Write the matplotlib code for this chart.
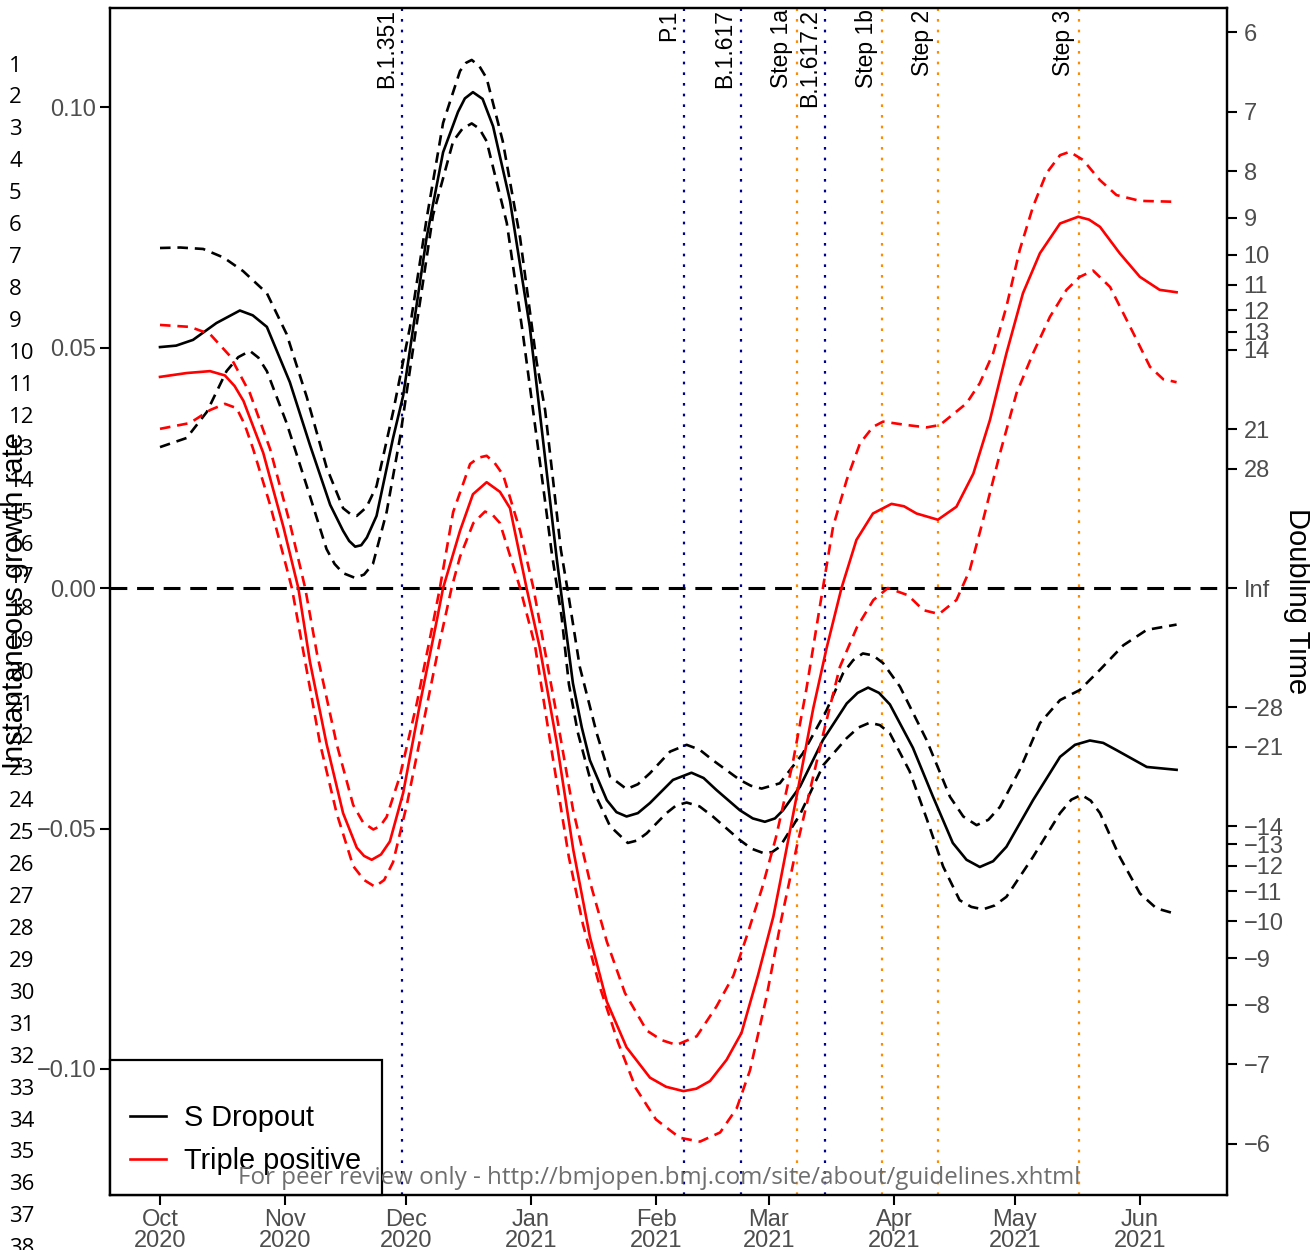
import numpy as np
import pandas as pd
import matplotlib
matplotlib.use("Agg")
import matplotlib.pyplot as plt
from matplotlib.lines import Line2D

plt.rcParams['font.family'] = ['Liberation Sans', 'DejaVu Sans']

START = pd.Timestamp("2020-10-01")

# growth rate estimates, x given as days since 1 Oct 2020
sdrop_days = [0, 4.0, 8.2, 14.0, 19.8, 23.0, 26.5, 32.2, 37.2, 42.2, 45.4, 46.9, 48.4, 49.9, 51.3,
              53.7, 57.8, 60.3, 66.1, 70.2, 73.9, 75.6, 77.6, 80.0, 82.6, 86.8, 91.7, 94.2, 98.4,
              100.4, 102.4, 104.6, 106.6, 110.8, 113.2, 115.7, 118.5, 121.5, 127.2, 131.8, 134.8,
              138.0, 143.8, 147.0, 150.0, 152.5, 154.5, 158.7, 164.4, 170.3, 173.0, 175.6, 178.3,
              181.0, 186.7, 191.7, 196.6, 200.0, 203.3, 206.6, 209.9, 216.5, 223.2, 226.9, 230.6,
              233.9, 237.2, 244.7, 252.1]
sdrop_rate = [0.0501, 0.0504, 0.0516, 0.0551, 0.0577, 0.0567, 0.0543, 0.0428, 0.0297, 0.0173,
              0.0119, 0.0098, 0.0086, 0.0089, 0.0105, 0.0150, 0.0312, 0.0400, 0.0728, 0.0906,
              0.0990, 0.1018, 0.1031, 0.1017, 0.0960, 0.0805, 0.0543, 0.0364, 0.0060, -0.0070,
              -0.0198, -0.0290, -0.0358, -0.0441, -0.0466, -0.0475, -0.0468, -0.0447, -0.0399,
              -0.0384, -0.0395, -0.0420, -0.0462, -0.0479, -0.0486, -0.0479, -0.0462, -0.0413,
              -0.0316, -0.0240, -0.0218, -0.0207, -0.0218, -0.0242, -0.0332, -0.0434, -0.0530,
              -0.0565, -0.0580, -0.0568, -0.0538, -0.0441, -0.0351, -0.0326, -0.0317, -0.0322,
              -0.0337, -0.0372, -0.0378]

sdrop_hi_days = [0, 5.0, 10.7, 15.8, 20.6, 26.5, 31.4, 36.4, 41.3, 45.4, 47.2, 48.8, 51.2, 53.7,
                 57.8, 62.0, 66.1, 70.2, 74.4, 75.9, 77.3, 79.2, 81.0, 85.0, 89.3, 93.4, 95.5,
                 97.4, 99.4, 101.2, 104.1, 108.3, 111.6, 115.7, 118.5, 121.5, 126.5, 130.6, 133.8,
                 137.1, 143.8, 146.5, 149.2, 153.7, 159.4, 165.3, 169.4, 171.9, 174.3, 176.8,
                 179.3, 183.5, 190.1, 195.9, 199.2, 202.5, 205.4, 208.3, 213.2, 218.2, 223.2,
                 228.1, 233.1, 238.9, 244.7, 252.1]
sdrop_hi = [0.0707, 0.0708, 0.0705, 0.0687, 0.0659, 0.0613, 0.0528, 0.0397, 0.0251, 0.0166,
            0.0154, 0.0150, 0.0168, 0.0212, 0.0366, 0.0543, 0.0767, 0.0967, 0.1075, 0.1092,
            0.1098, 0.1085, 0.1060, 0.0929, 0.0728, 0.0470, 0.0370, 0.0230, 0.0080, -0.0010,
            -0.0164, -0.0302, -0.0392, -0.0418, -0.0408, -0.0385, -0.0340, -0.0326, -0.0336,
            -0.0358, -0.0399, -0.0411, -0.0417, -0.0406, -0.0344, -0.0254, -0.0177, -0.0150,
            -0.0136, -0.0140, -0.0156, -0.0205, -0.0316, -0.0434, -0.0475, -0.0493, -0.0482,
            -0.0455, -0.0378, -0.0281, -0.0233, -0.0212, -0.0170, -0.0119, -0.0087, -0.0076]

sdrop_lo_days = [0, 6.6, 11.6, 16.5, 19.4, 22.3, 24.4, 26.5, 31.4, 36.4, 41.3, 43.3, 45.4, 48.4,
                 50.6, 52.8, 56.2, 59.5, 63.7, 67.7, 72.7, 75.0, 77.3, 79.2, 81.0, 86.0, 90.0,
                 95.0, 97.2, 99.6, 101.4, 103.6, 107.4, 111.6, 116.0, 118.3, 120.7, 125.6, 128.0,
                 130.6, 133.8, 137.1, 143.8, 146.7, 149.6, 151.8, 153.7, 158.7, 164.5, 170.3,
                 173.2, 176.0, 178.5, 181.0, 185.9, 190.1, 194.2, 198.3, 201.2, 204.1, 207.0,
                 209.9, 216.5, 223.2, 226.0, 228.5, 230.8, 233.1, 238.0, 243.0, 247.1, 252.1]
sdrop_lo = [0.0293, 0.0312, 0.0366, 0.0451, 0.0480, 0.0493, 0.0479, 0.0451, 0.0343, 0.0212,
            0.0081, 0.0050, 0.0031, 0.0021, 0.0028, 0.0050, 0.0158, 0.0312, 0.0551, 0.0775,
            0.0929, 0.0955, 0.0966, 0.0955, 0.0929, 0.0759, 0.0528, 0.0212, 0.0070, -0.0060,
            -0.0200, -0.0300, -0.0420, -0.0495, -0.0530, -0.0525, -0.0510, -0.0468, -0.0452,
            -0.0446, -0.0454, -0.0475, -0.0524, -0.0542, -0.0551, -0.0549, -0.0538, -0.0471,
            -0.0368, -0.0312, -0.0290, -0.0280, -0.0285, -0.0302, -0.0381, -0.0479, -0.0579,
            -0.0649, -0.0663, -0.0668, -0.0660, -0.0642, -0.0559, -0.0468, -0.0440, -0.0430,
            -0.0442, -0.0468, -0.0559, -0.0635, -0.0666, -0.0678]

triple_days = [0, 6.6, 12.4, 16.1, 18.5, 20.7, 25.6, 30.6, 34.3, 37.2, 41.3, 45.4, 48.8, 50.6,
               52.5, 54.8, 57.0, 60.3, 64.5, 68.6, 70.2, 74.4, 77.6, 81.0, 84.3, 86.8, 90.9,
               94.2, 98.4, 102.5, 106.6, 110.8, 115.7, 121.5, 125.5, 129.8, 133.0, 136.4, 140.5,
               144.2, 148.3, 152.1, 153.7, 158.1, 162.0, 165.3, 169.0, 172.7, 176.8, 181.4,
               184.5, 187.6, 192.9, 197.5, 201.7, 205.8, 209.9, 214.0, 218.2, 223.2, 227.7,
               230.4, 233.1, 238.0, 243.0, 247.9, 252.1]
triple_rate = [0.0439, 0.0447, 0.0451, 0.0442, 0.0420, 0.0389, 0.0281, 0.0127, 0.0000, -0.0154,
               -0.0324, -0.0468, -0.0540, -0.0557, -0.0565, -0.0554, -0.0527, -0.0426, -0.0239,
               -0.0069, 0.0000, 0.0119, 0.0195, 0.0220, 0.0200, 0.0166, 0.0000, -0.0125,
               -0.0322, -0.0545, -0.0725, -0.0860, -0.0955, -0.1018, -0.1037, -0.1046, -0.1041,
               -0.1025, -0.0981, -0.0925, -0.0805, -0.0683, -0.0615, -0.0423, -0.0250, -0.0125,
               0.0000, 0.0100, 0.0155, 0.0175, 0.0170, 0.0155, 0.0142, 0.0169, 0.0238, 0.0349,
               0.0488, 0.0613, 0.0696, 0.0758, 0.0772, 0.0766, 0.0751, 0.0696, 0.0647, 0.0620,
               0.0615]

triple_hi_days = [0, 7.4, 12.4, 17.4, 22.3, 27.3, 32.2, 36.0, 38.9, 43.8, 47.9, 50.4, 52.9, 54.6,
                  56.2, 59.5, 63.7, 67.8, 69.4, 72.7, 76.9, 79.0, 81.0, 83.0, 85.1, 89.3, 92.6,
                  98.0, 102.4, 106.6, 110.8, 115.3, 120.7, 124.4, 128.1, 133.1, 138.0, 142.2,
                  145.5, 149.3, 152.7, 157.0, 160.3, 163.6, 166.9, 170.3, 173.6, 176.8, 179.3,
                  185.1, 190.1, 193.4, 195.9, 200.0, 203.3, 206.6, 209.9, 213.2, 216.5, 219.8,
                  223.2, 225.6, 228.9, 233.1, 237.2, 243.0, 252.1]
triple_hi = [0.0547, 0.0543, 0.0528, 0.0482, 0.0405, 0.0289, 0.0135, 0.0000, -0.0135, -0.0324,
             -0.0451, -0.0488, -0.0502, -0.0495, -0.0476, -0.0391, -0.0239, -0.0069, 0.0000,
             0.0158, 0.0258, 0.0271, 0.0275, 0.0260, 0.0235, 0.0119, 0.0000, -0.0247, -0.0460,
             -0.0610, -0.0735, -0.0842, -0.0920, -0.0940, -0.0950, -0.0932, -0.0870, -0.0806,
             -0.0724, -0.0624, -0.0520, -0.0360, -0.0210, -0.0040, 0.0127, 0.0225, 0.0301,
             0.0335, 0.0346, 0.0339, 0.0334, 0.0339, 0.0356, 0.0384, 0.0426, 0.0488, 0.0585,
             0.0703, 0.0793, 0.0862, 0.0900, 0.0907, 0.0890, 0.0848, 0.0817, 0.0805, 0.0803]

triple_lo_days = [0, 7.4, 12.4, 16.1, 19.0, 21.0, 23.1, 27.3, 31.4, 32.7, 35.5, 39.7, 43.8, 47.9,
                  50.6, 53.3, 55.6, 57.8, 61.2, 65.3, 69.4, 72.3, 74.4, 77.7, 80.6, 82.5, 84.3,
                  89.3, 93.0, 96.2, 101.4, 104.9, 109.1, 113.6, 118.0, 123.0, 128.9, 133.9, 138.9,
                  143.0, 146.3, 150.4, 154.1, 157.9, 161.2, 164.5, 168.6, 172.8, 176.9, 180.5,
                  185.5, 189.3, 193.2, 197.5, 200.8, 204.1, 208.3, 212.4, 216.5, 220.7, 224.8,
                  228.1, 231.4, 235.6, 238.9, 242.2, 245.5, 248.8, 252.1]
triple_lo = [0.0331, 0.0343, 0.0370, 0.0383, 0.0374, 0.0340, 0.0289, 0.0173, 0.0042, 0.0000,
             -0.0130, -0.0324, -0.0468, -0.0578, -0.0607, -0.0621, -0.0607, -0.0570, -0.0451,
             -0.0281, -0.0111, 0.0000, 0.0065, 0.0135, 0.0159, 0.0152, 0.0135, 0.0000, -0.0120,
             -0.0290, -0.0560, -0.0700, -0.0830, -0.0945, -0.1040, -0.1105, -0.1143, -0.1151,
             -0.1132, -0.1082, -0.1003, -0.0850, -0.0688, -0.0538, -0.0420, -0.0302, -0.0164,
             -0.0082, -0.0025, 0.0000, -0.0015, -0.0046, -0.0054, -0.0025, 0.0037, 0.0141,
             0.0280, 0.0405, 0.0488, 0.0564, 0.0620, 0.0647, 0.0660, 0.0626, 0.0571, 0.0516,
             0.0460, 0.0434, 0.0428]

# variant introductions and roadmap steps
variant_labels = ["B.1.351", "P.1", "B.1.617", "B.1.617.2"]
variant_dates = ["2020-11-30", "2021-02-08", "2021-02-22", "2021-03-15"]
step_labels = ["Step 1a", "Step 1b", "Step 2", "Step 3"]
step_dates = ["2021-03-08", "2021-03-29", "2021-04-12", "2021-05-17"]

month_starts = ["2020-10-01", "2020-11-01", "2020-12-01", "2021-01-01", "2021-02-01",
                "2021-03-01", "2021-04-01", "2021-05-01", "2021-06-01"]
month_labels = ["Oct\n2020", "Nov\n2020", "Dec\n2020", "Jan\n2021", "Feb\n2021",
                "Mar\n2021", "Apr\n2021", "May\n2021", "Jun\n2021"]

growth_ticks = [0.10, 0.05, 0.00, -0.05, -0.10]
doubling_ticks = [6, 7, 8, 9, 10, 11, 12, 13, 14, 21, 28, np.inf,
                  -28, -21, -14, -13, -12, -11, -10, -9, -8, -7, -6]


def to_dates(days):
    return START + pd.to_timedelta(np.asarray(days, dtype=float), unit="D")


fig = plt.figure(figsize=(13.1, 12.5), dpi=100)
ax = fig.add_axes([110 / 1310, 1 - 1195 / 1250, (1227 - 110) / 1310, (1195 - 8) / 1250])

for d in variant_dates:
    ax.axvline(pd.Timestamp(d), color="#00008B", lw=1.6, dashes=(1.2, 3.6), zorder=1)
for d in step_dates:
    ax.axvline(pd.Timestamp(d), color="#FF8C00", lw=1.6, dashes=(1.2, 3.6), zorder=1)

ax.axhline(0, color="black", lw=2.2, dashes=(5.5, 3.2), zorder=2)

ci_dash = (4.0, 2.6)
line_kw = dict(lw=1.9, solid_joinstyle="round", dash_joinstyle="round", zorder=3)
ax.plot(to_dates(sdrop_days), sdrop_rate, color="black", **line_kw)
ax.plot(to_dates(sdrop_hi_days), sdrop_hi, color="black", dashes=ci_dash, **line_kw)
ax.plot(to_dates(sdrop_lo_days), sdrop_lo, color="black", dashes=ci_dash, **line_kw)
ax.plot(to_dates(triple_days), triple_rate, color="red", **line_kw)
ax.plot(to_dates(triple_hi_days), triple_hi, color="red", dashes=ci_dash, **line_kw)
ax.plot(to_dates(triple_lo_days), triple_lo, color="red", dashes=ci_dash, **line_kw)

for lab, d in zip(variant_labels + step_labels, variant_dates + step_dates):
    ax.annotate(lab, xy=(pd.Timestamp(d), 1.0), xycoords=("data", "axes fraction"),
                xytext=(-3, -1), textcoords="offset points", rotation=90,
                ha="right", va="top", fontsize=16.5, color="black")

ax.set_xlim(START - pd.Timedelta(days=12.4), START + pd.Timedelta(days=264.6))
ax.set_ylim(-0.1262, 0.1206)

tick_color = "#4D4D4D"
ax.set_xticks([pd.Timestamp(m) for m in month_starts])
ax.set_xticklabels(month_labels, linespacing=0.95)
ax.set_yticks(growth_ticks)
ax.set_yticklabels([f"{v:.2f}".replace("-", "\u2212") for v in growth_ticks])
ax.tick_params(axis="both", direction="out", length=7, width=1.5, labelsize=17,
               labelcolor=tick_color, pad=3)
for s in ax.spines.values():
    s.set_linewidth(1.6)

# doubling time axis on the right
ax2 = ax.twinx()
ax2.set_ylim(ax.get_ylim())
ax2.set_yticks([0.0 if np.isinf(t) else np.log(2) / t for t in doubling_ticks])
ax2.set_yticklabels(["Inf" if np.isinf(t) else str(t).replace("-", "\u2212")
                     for t in doubling_ticks])
ax2.tick_params(axis="y", direction="out", length=7, width=1.5, labelsize=17,
                labelcolor=tick_color, pad=5)
for s in ax2.spines.values():
    s.set_linewidth(1.6)

handles = [Line2D([], [], color="black", lw=1.9), Line2D([], [], color="red", lw=1.9)]
leg = ax.legend(handles, ["S Dropout", "Triple positive"], loc="lower left",
                bbox_to_anchor=(0, 0), borderaxespad=0, fontsize=20.8, frameon=True,
                fancybox=False, edgecolor="black", framealpha=1, borderpad=0.7,
                labelspacing=0.5, handlelength=1.25, handletextpad=0.62,
                title=" ", title_fontsize=8)
leg.get_frame().set_linewidth(1.6)
leg.set_zorder(5)

fig.text(15 / 1310, 1 - 601 / 1250, "Instantaneous growth rate", rotation=90,
         ha="center", va="center", fontsize=21, color="black")
fig.text(1297 / 1310, 1 - 601 / 1250, "Doubling Time", rotation=270,
         ha="center", va="center", fontsize=21, color="black")

# manuscript line numbers down the margin
for k in range(1, 39):
    fig.text(9 / 1310, 1 - (66 + (k - 1) * 31.97) / 1250, str(k), ha="left", va="center",
             fontsize=16, family=["Open Sans", "DejaVu Sans"], color="black", zorder=10)

fig.text(659 / 1310, 1 - 1178 / 1250,
         "For peer review only - http://bmjopen.bmj.com/site/about/guidelines.xhtml",
         ha="center", va="center", fontsize=17.4, family=["Open Sans", "DejaVu Sans"],
         color="#6E6E6E", zorder=10)

fig.savefig("out.png", dpi=100)
plt.close(fig)
